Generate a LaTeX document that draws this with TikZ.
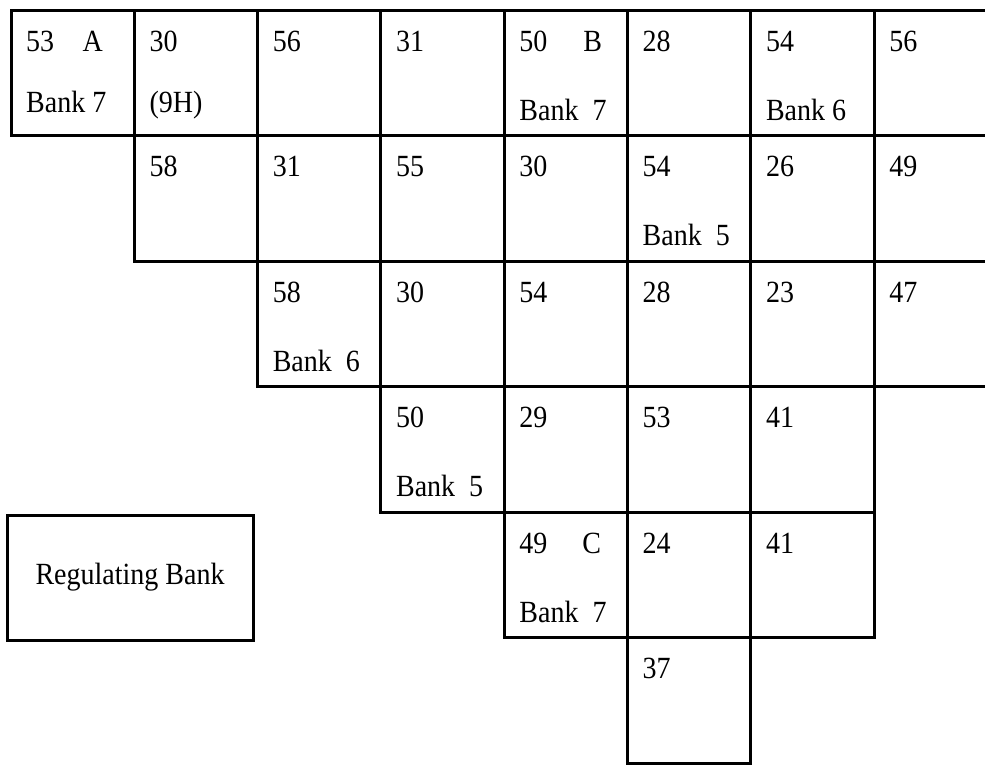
\documentclass[tikz,border=0pt]{standalone}
\usepackage{graphicx}
\usepackage{fontspec}
\setmainfont{Liberation Serif}
\newcommand{\vstretch}[1]{\scalebox{1}[1.1]{#1}}
\begin{document}
\begin{tikzpicture}[x=1pt,y=-1pt,
  cellbox/.style={draw, line width=3pt, minimum width=123.3pt, minimum height=125.5pt, inner sep=0pt, outer sep=0pt, anchor=north west},
  numtxt/.style={font=\fontsize{28}{34}\selectfont, inner sep=0pt, anchor=base west},
  lettxt/.style={font=\fontsize{28}{34}\selectfont, inner sep=0pt, anchor=base east},
  regbox/.style={draw, line width=3pt, minimum width=246pt, minimum height=125pt, inner sep=0pt, font=\fontsize{28}{34}\selectfont}]
\clip (0,0) rectangle (985,766);
\useasboundingbox (0,0) rectangle (985,766);
% cells: row/col
\foreach \r/\c in {0/0,0/1,0/2,0/3,0/4,0/5,0/6,0/7,
                   1/1,1/2,1/3,1/4,1/5,1/6,1/7,
                   2/2,2/3,2/4,2/5,2/6,2/7,
                   3/3,3/4,3/5,3/6,
                   4/4,4/5,4/6,
                   5/5}
  \node[cellbox] (c\r\c) at ({11+123.3*\c},{10+125.5*\r}) {};
% numbers
\foreach \r/\c/\t in {0/0/53,0/1/30,0/2/56,0/3/31,0/4/50,0/5/28,0/6/54,0/7/56,
                      1/1/58,1/2/31,1/3/55,1/4/30,1/5/54,1/6/26,1/7/49,
                      2/2/58,2/3/30,2/4/54,2/5/28,2/6/23,2/7/47,
                      3/3/50,3/4/29,3/5/53,3/6/41,
                      4/4/49,4/5/24,4/6/41,
                      5/5/37}
  \node[numtxt] (n\r\c) at ([xshift=15pt,yshift=-41pt]c\r\c.north west) {\vstretch{\t}};
% bottom labels
\node[numtxt] (b00) at ([xshift=15pt,yshift=-102pt]c00.north west) {\vstretch{Bank 7}};
\node[numtxt] (b01) at ([xshift=15pt,yshift=-102pt]c01.north west) {\vstretch{(9H)}};
\node[numtxt] (b04) at ([xshift=15pt,yshift=-110pt]c04.north west) {\vstretch{Bank\ \ 7}};
\node[numtxt] (b06) at ([xshift=15pt,yshift=-110pt]c06.north west) {\vstretch{Bank 6}};
\node[numtxt] (b15) at ([xshift=15pt,yshift=-110pt]c15.north west) {\vstretch{Bank\ \ 5}};
\node[numtxt] (b22) at ([xshift=15pt,yshift=-110pt]c22.north west) {\vstretch{Bank\ \ 6}};
\node[numtxt] (b33) at ([xshift=15pt,yshift=-110pt]c33.north west) {\vstretch{Bank\ \ 5}};
\node[numtxt] (b44) at ([xshift=15pt,yshift=-110pt]c44.north west) {\vstretch{Bank\ \ 7}};
% letters
\node[lettxt] (lA) at ([xshift=92pt,yshift=-41pt]c00.north west) {\vstretch{A}};
\node[lettxt] (lB) at ([xshift=98pt,yshift=-41pt]c04.north west) {\vstretch{B}};
\node[lettxt] (lC) at ([xshift=97pt,yshift=-41pt]c44.north west) {\vstretch{C}};
% regulating bank
\node[regbox] (reg) at (130,577.5) {\vstretch{Regulating Bank}};
\end{tikzpicture}
\end{document}
